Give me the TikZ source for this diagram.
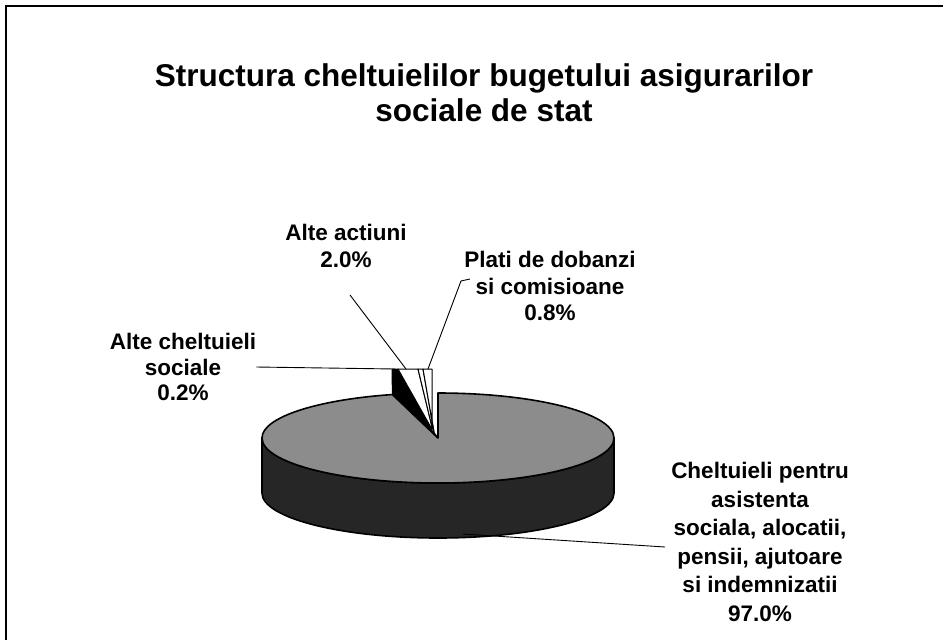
\documentclass[tikz,border=0pt]{standalone}
\usepackage{fontspec}
\setmainfont{Liberation Sans}
\begin{document}
\begin{tikzpicture}[x=1pt,y=-1pt,
  lbl/.style={align=center, inner sep=0pt},
  leader/.style={draw=black, line width=0.9pt},
  slice/.style={draw=black, line width=1pt, line join=round},
  rim/.style={draw=black, line width=1.6pt, line join=round}]
\useasboundingbox (0,0) rectangle (943,640);
\fill[white] (0,0) rectangle (943,640);
% frame
\draw[line width=2pt] (6,640) -- (6,6) -- (943,6);

% title
\node[lbl, font=\bfseries\fontsize{31.5}{35}\selectfont] (title) at (484,93)
  {Structura cheltuielilor bugetului asigurarilor\\sociale de stat};

% pie side
\coordinate (C) at (438,438);
\filldraw[fill=black!85, rim] (614,438) arc[start angle=0,end angle=180,x radius=176,y radius=45]
  -- ++(0,55) arc[start angle=180,end angle=0,x radius=176,y radius=45] -- cycle;
% pie top (97.0%)
\filldraw[fill=black!45, rim] (438,393) arc[start angle=-90,end angle=255,x radius=176,y radius=45] -- (C) -- cycle;

% exploded small slices
\filldraw[fill=black, slice] (392,369) -- (398,369) -- (433,431) -- (C) -- (392.4,394.5) -- cycle;
\filldraw[fill=white, slice] (398,369) -- (418,369) -- (433,431) -- cycle;
\filldraw[fill=white, slice] (418,369) -- (423,369) -- (434,432) -- (433,431) -- cycle;
\filldraw[fill=white, slice] (423,369) -- (432,369) -- (432,431) -- (434,432) -- cycle;
\draw[line width=1.2pt] (438,393) -- (C);

% leader end points
\coordinate (acsEnd) at (395,369);
\coordinate (aaStart) at (350,295);
\coordinate (aaEnd) at (406,369);
\coordinate (pdStart) at (470,279);
\coordinate (pdBend) at (461,281);
\coordinate (pdEnd) at (428,369);
\coordinate (chStart) at (463,534);
\coordinate (chEnd) at (665,547);

% labels
\node[lbl, font=\bfseries\fontsize{22.5}{25.5}\selectfont] (acs) at (183,367)
  {Alte cheltuieli\\sociale\\0.2\%};
\node[lbl, font=\bfseries\fontsize{22.5}{27}\selectfont] (aa) at (346,246)
  {Alte actiuni\\2.0\%};
\node[lbl, font=\bfseries\fontsize{22.5}{26.5}\selectfont] (pd) at (550,286)
  {Plati de dobanzi\\si comisioane\\0.8\%};
\node[lbl, font=\bfseries\fontsize{22.5}{28.6}\selectfont] (ch) at (760,542)
  {Cheltuieli pentru\\asistenta\\sociala, alocatii,\\pensii, ajutoare\\si indemnizatii\\97.0\%};

% leaders
\draw[leader] (acs.east) -- (acsEnd);
\draw[leader] (aaStart) -- (aaEnd);
\draw[leader] (pdStart) -- (pdBend) -- (pdEnd);
\draw[leader] (chStart) -- (chEnd);
\end{tikzpicture}
\end{document}
